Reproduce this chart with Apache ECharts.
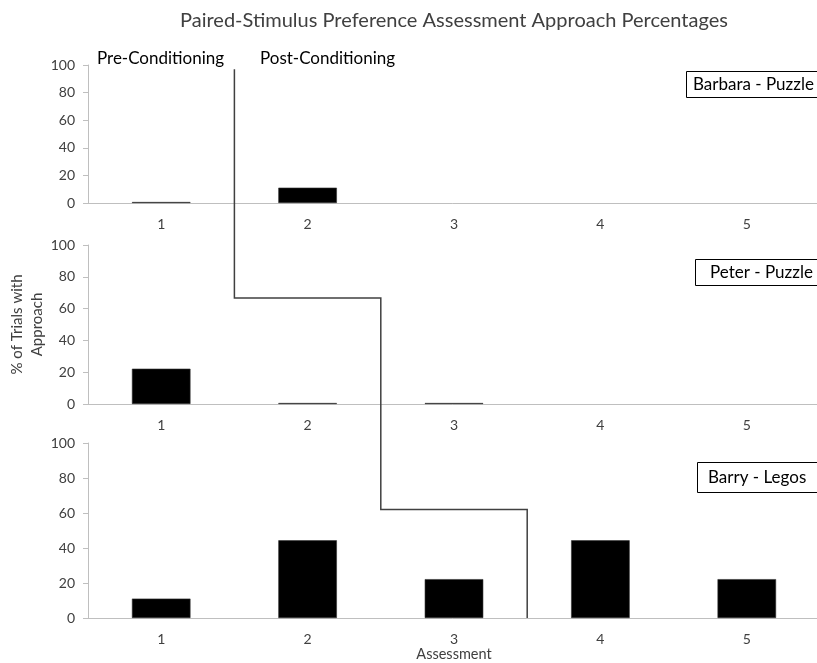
<!DOCTYPE html>
<html>
<head>
<meta charset="utf-8">
<script src="https://cdn.jsdelivr.net/npm/echarts@6/dist/echarts.min.js"></script>
<style>
  html, body { margin: 0; padding: 0; background: #fff; }
  #chart { width: 817px; height: 663px; }
</style>
</head>
<body>
<div id="chart"></div>
<script>
// assessment numbers on the x axis
const categories = ['1', '2', '3', '4', '5'];
// % of trials with approach, '-' = not assessed
const barbara = [0, 11.1, '-', '-', '-'];
const peter = [22.2, 0, 0, '-', '-'];
const barry = [11.1, 44.4, 22.2, 44.4, 22.2];
const panelNames = ['Barbara - Puzzle', 'Peter - Puzzle', 'Barry - Legos'];
// phase change line: top in panel 1, then step level in panel 2 and 3
const phaseTop = 97;
const phaseLevels = [66.7, 62];

const font = 'Lato, "Open Sans", sans-serif';
const textColor = '#404040';
const axisColor = '#bfbfbf';

const grids = [
  { left: 88, right: -3, top: 65, height: 138, outerBoundsMode: 'none' },
  { left: 88, right: -3, top: 245, height: 159, outerBoundsMode: 'none' },
  { left: 88, right: -3, top: 443, height: 175, outerBoundsMode: 'none' },
];

function xAxisFor(i) {
  return {
    type: 'category',
    gridIndex: i,
    data: categories,
    axisLine: { lineStyle: { color: axisColor } },
    axisTick: { lineStyle: { color: axisColor }, length: 5 },
    axisLabel: { color: textColor, fontSize: 14, fontFamily: font, margin: 14 },
    name: i === 2 ? 'Assessment' : '',
    nameLocation: 'middle',
    nameGap: 26,
    nameTextStyle: { color: textColor, fontSize: 14.5, fontFamily: font },
  };
}

function yAxisFor(i) {
  return {
    type: 'value',
    gridIndex: i,
    min: 0,
    max: 100,
    interval: 20,
    splitLine: { show: false },
    axisLine: { show: true, lineStyle: { color: axisColor } },
    axisTick: { show: true, lineStyle: { color: axisColor }, length: 5 },
    axisLabel: { color: textColor, fontSize: 14, fontFamily: font, margin: 13 },
    name: i === 1 ? '% of Trials with\nApproach' : '',
    nameLocation: 'middle',
    nameRotate: 90,
    nameGap: 41,
    nameMoveOverlap: false,
    nameTextStyle: { color: textColor, fontSize: 15, fontFamily: font, lineHeight: 20 },
  };
}

function barSeries(i, data) {
  return {
    type: 'bar',
    xAxisIndex: i,
    yAxisIndex: i,
    data: data,
    barCategoryGap: '60%',
    barMinHeight: 1,
    itemStyle: { color: '#000', borderColor: '#333', borderWidth: 0.6 },
    silent: true,
  };
}

const nameBoxes = [
  { left: 686, top: 71, padding: [5, 12, 5, 7] },
  { left: 695, top: 259, padding: [5, 16, 5, 15] },
  { left: 697, top: 462, padding: [7, 12, 7, 11] },
];

const chart = echarts.init(document.getElementById('chart'));
chart.setOption({
  animation: false,
  backgroundColor: '#fff',
  grid: grids,
  xAxis: [0, 1, 2].map(xAxisFor),
  yAxis: [0, 1, 2].map(yAxisFor),
  series: [barSeries(0, barbara), barSeries(1, peter), barSeries(2, barry)],
  title: panelNames.map((n, i) => ({
    text: n,
    left: nameBoxes[i].left,
    top: nameBoxes[i].top,
    padding: nameBoxes[i].padding,
    borderColor: '#000',
    borderWidth: 1,
    backgroundColor: '#fff',
    textStyle: { color: '#000', fontSize: 17, fontWeight: 'normal', fontFamily: font },
  })),
  graphic: [
    {
      id: 'mainTitle',
      type: 'text',
      x: 454, y: 21,
      style: {
        text: 'Paired-Stimulus Preference Assessment Approach Percentages',
        font: '20px ' + font, fill: textColor, align: 'center', verticalAlign: 'middle',
      },
    },
    {
      id: 'pre',
      type: 'text',
      x: 97, y: 59,
      style: { text: 'Pre-Conditioning', font: '17px ' + font, fill: '#000', verticalAlign: 'middle' },
    },
    {
      id: 'post',
      type: 'text',
      x: 260, y: 59,
      style: { text: 'Post-Conditioning', font: '17px ' + font, fill: '#000', verticalAlign: 'middle' },
    },
  ],
});

// phase change line, placed through the axes' own scales
function boundaryPx(grid, afterIdx, value) {
  const a = chart.convertToPixel({ gridIndex: grid }, [afterIdx, value]);
  const b = chart.convertToPixel({ gridIndex: grid }, [afterIdx + 1, value]);
  return [(a[0] + b[0]) / 2, a[1]];
}
const pts = [
  boundaryPx(0, 0, phaseTop),
  boundaryPx(1, 0, phaseLevels[0]),
  boundaryPx(1, 1, phaseLevels[0]),
  boundaryPx(2, 1, phaseLevels[1]),
  boundaryPx(2, 2, phaseLevels[1]),
  boundaryPx(2, 2, 0),
];
chart.setOption({
  graphic: [{
    id: 'phaseLine',
    type: 'polyline',
    shape: { points: pts },
    style: { stroke: '#404040', lineWidth: 1.5, fill: null },
    z: 10,
  }],
});
</script>
</body>
</html>
